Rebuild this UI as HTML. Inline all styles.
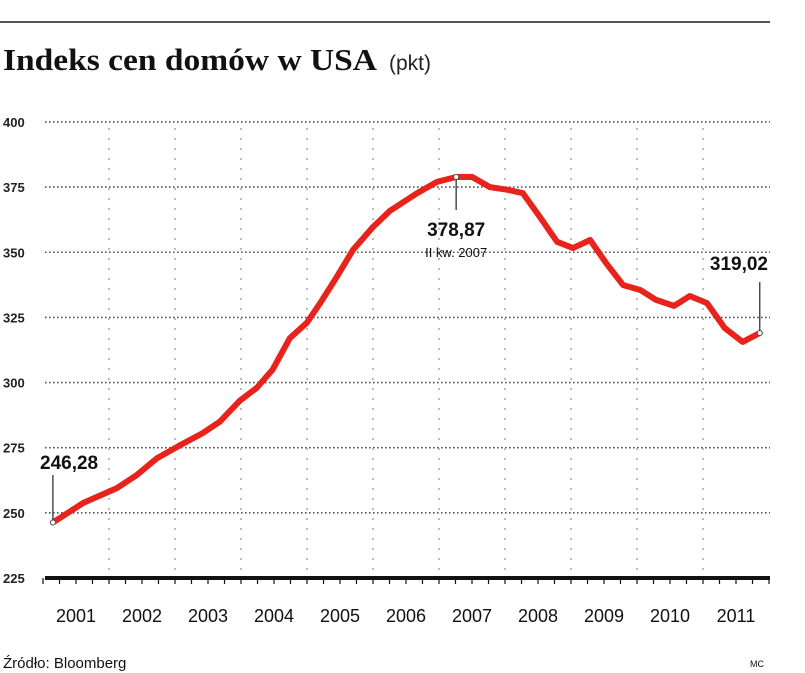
<!DOCTYPE html>
<html><head><meta charset="utf-8"><style>
body{margin:0;background:#fff;}
svg{display:block;}
</style></head><body>
<svg width="805" height="673" viewBox="0 0 805 673" xmlns="http://www.w3.org/2000/svg">
<line x1="0" y1="22" x2="770" y2="22" stroke="#555" stroke-width="2"/>
<text x="3" y="70" font-family="Liberation Serif, serif" font-weight="bold" font-size="31" textLength="374" lengthAdjust="spacingAndGlyphs" fill="#111">Indeks cen domów w USA</text>
<text x="389" y="70" font-family="Liberation Sans, sans-serif" font-size="21" fill="#222">(pkt)</text>
<g id="grid"></g>
<g id="axis"></g>
<g id="series"></g>
<g id="annot"></g>
<text x="3" y="668" font-family="Liberation Sans, sans-serif" font-size="15" fill="#111">Źródło: Bloomberg</text>
<text x="750" y="667" font-family="Liberation Sans, sans-serif" font-size="9" fill="#111">MC</text>
</svg>
<script>
const yTicks=[225,250,275,300,325,350,375,400];
const years=[2001,2002,2003,2004,2005,2006,2007,2008,2009,2010,2011];
const times=[2001.15,2001.61,2002.12,2002.42,2002.73,2003.08,2003.42,2003.68,2003.98,2004.24,2004.48,2004.74,2005.0,2005.2,2005.45,2005.7,2006.0,2006.26,2006.67,2006.97,2007.26,2007.5,2007.77,2008.03,2008.27,2008.53,2008.79,2009.03,2009.29,2009.53,2009.79,2010.05,2010.29,2010.56,2010.8,2011.06,2011.33,2011.6,2011.86];
const values=[246.28,253.8,259.5,264.5,271,276,280.6,285,293,298,305,317,323,330.5,340.5,351,359.7,366,372.7,377,378.87,378.9,375,374,372.7,363.5,354,351.6,354.7,345.9,337.4,335.5,331.7,329.4,333.2,330.5,320.9,315.6,319.02];
const NS="http://www.w3.org/2000/svg";
const X=t=>43+(t-2001)*66;
const Y=v=>578-(v-225)*2.606;
function mk(tag,attrs,parent,txt){const e=document.createElementNS(NS,tag);for(const k in attrs)e.setAttribute(k,attrs[k]);if(txt!==undefined)e.textContent=txt;parent.appendChild(e);return e;}
const grid=document.getElementById('grid'),axis=document.getElementById('axis'),series=document.getElementById('series'),annot=document.getElementById('annot');
yTicks.forEach(v=>{
 if(v>225){const l=mk('line',{x1:45,x2:770,y1:Y(v),y2:Y(v),stroke:'#555','stroke-width':1.6,'stroke-dasharray':'1.6 2.4'},grid);
 
 }
 const t=mk('text',{x:3,y:Y(v)+5,'font-family':'Liberation Sans, sans-serif','font-size':13,'font-weight':'bold',fill:'#222'},axis,String(v));
 
 
});
years.slice(1).forEach(y=>{
 const l=mk('line',{x1:X(y),x2:X(y),y1:Y(400)+6,y2:Y(225),stroke:'#bbb','stroke-width':2,'stroke-dasharray':'2 8'},grid);
 
 
});
const base=mk('line',{x1:45,x2:770,y1:Y(225),y2:Y(225),stroke:'#111','stroke-width':4},axis);


for(let q=0;q<=44;q++){const tk=mk('line',{x1:X(2001+q/4),x2:X(2001+q/4),y1:Y(225),y2:Y(225)+6,stroke:'#111','stroke-width':1.2},axis);
 
 }
years.forEach(y=>{
 const t=mk('text',{x:X(y+0.5),y:622,'text-anchor':'middle','font-family':'Liberation Sans, sans-serif','font-size':18,fill:'#111'},axis,String(y));
 
 
});
const d=times.map((t,i)=>(i?'L':'M')+X(t).toFixed(1)+','+Y(values[i]).toFixed(1)).join(' ');
const p=mk('path',{d:d,fill:'none',stroke:'#e8231b','stroke-width':6,'stroke-linejoin':'round','stroke-linecap':'round'},series);


function ann(i,y2,label,lx,ly,anchor,name){
 const x=X(times[i]),y=Y(values[i]);
 const l=mk('line',{x1:x,x2:x,y1:y,y2:y2,stroke:'#333','stroke-width':1.3},annot);
 
 
 const c=mk('circle',{cx:x,cy:y,r:2.5,fill:'#fff',stroke:'#555','stroke-width':1},annot);
 
 
 const t=mk('text',{x:lx,y:ly,'text-anchor':anchor,'font-family':'Liberation Sans, sans-serif','font-size':19,'font-weight':'bold',fill:'#111'},annot,label);
 
 
}
ann(0,475,'246,28',40,469,'start','start-value');
const pk=20;
ann(pk,210,'378,87',X(times[pk]),236,'middle','peak-value');
const st=mk('text',{x:X(times[pk]),y:257,'text-anchor':'middle','font-family':'Liberation Sans, sans-serif','font-size':13,fill:'#111'},annot,'II kw. 2007');


ann(values.length-1,282,'319,02',768,270,'end','end-value');
</script>
</body></html>
